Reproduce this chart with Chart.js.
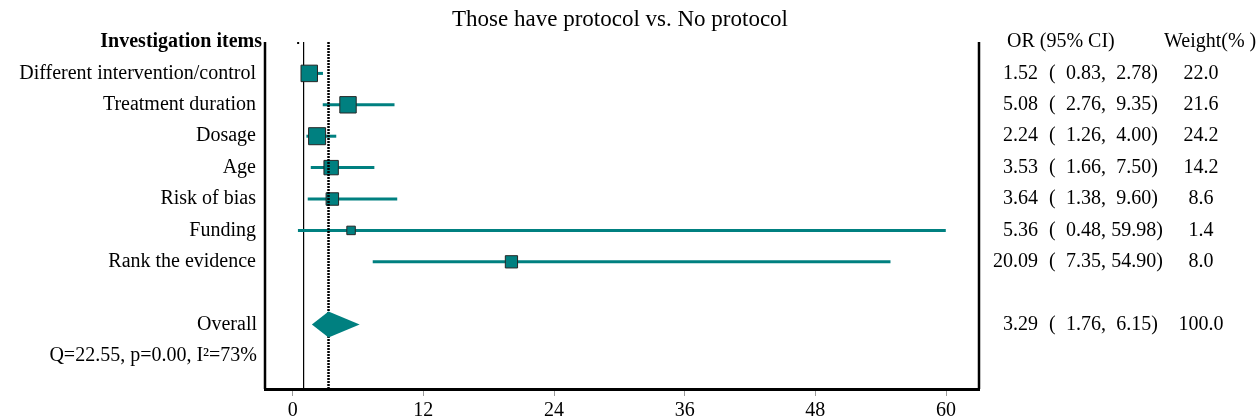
<!DOCTYPE html>
<html>
<head>
<meta charset="utf-8">
<script src="https://cdn.jsdelivr.net/npm/chart.js@4.4.1/dist/chart.umd.min.js"></script>
<style>
html,body{margin:0;padding:0;background:#fff;}
#wrap{width:1258px;height:420px;position:relative;}
</style>
</head>
<body>
<div id="wrap"><canvas id="c"></canvas></div>
<script>
// ---------- data ----------
const chartTitle = "Those have protocol vs. No protocol";
const headerLeft = "Investigation items";
const headerOR = "OR (95% CI)";
const headerWeight = "Weight(% )";
const categories = ["Different intervention/control", "Treatment duration", "Dosage", "Age", "Risk of bias", "Funding", "Rank the evidence"];
const orValues = [1.52, 5.08, 2.24, 3.53, 3.64, 5.36, 20.09];
const ciLow    = [0.83, 2.76, 1.26, 1.66, 1.38, 0.48, 7.35];
const ciHigh   = [2.78, 9.35, 4.00, 7.50, 9.60, 59.98, 54.90];
const weights  = [22.0, 21.6, 24.2, 14.2, 8.6, 1.4, 8.0];
const overallLabel = "Overall";
const overallOR = 3.29;
const overallLow = 1.76;
const overallHigh = 6.15;
const overallWeight = 100.0;
const heterogeneityText = "Q=22.55, p=0.00, I\u00B2=73%";
const nullValue = 1;
const xTicks = [0, 12, 24, 36, 48, 60];

// ---------- style ----------
const TEAL = '#008080';
const FONT = '"Liberation Serif", "Times New Roman", serif';
const X_MIN = -2.544, X_MAX = 63.03;
const Y_MAX = 11.05;
const overallRow = categories.length + 2;
const hetRow = categories.length + 3;

Chart.defaults.font.family = FONT;
Chart.defaults.font.size = 20;
Chart.defaults.color = '#000';

const ciDatasets = categories.map((c, i) => ({
  type: 'scatter',
  label: 'ci-' + i,
  data: [{x: ciLow[i], y: i + 1}, {x: ciHigh[i], y: i + 1}],
  showLine: true,
  borderColor: TEAL,
  borderWidth: 3,
  pointRadius: 0,
  order: 4
}));

const boxSide = w => 5.8 + 2.28 * Math.sqrt(w);
const boxDataset = {
  type: 'scatter',
  label: 'OR',
  data: orValues.map((v, i) => ({x: v, y: i + 1})),
  pointStyle: 'rect',
  pointRadius: weights.map(w => boxSide(w) / Math.SQRT2),
  pointHoverRadius: weights.map(w => boxSide(w) / Math.SQRT2),
  backgroundColor: TEAL,
  borderColor: '#262626',
  borderWidth: 1,
  order: 3
};

const nullLine = {
  type: 'scatter',
  label: 'null',
  data: [{x: nullValue, y: 0}, {x: nullValue, y: Y_MAX}],
  showLine: true,
  borderColor: '#000',
  borderWidth: 1,
  pointRadius: 0,
  order: 6
};

const overallLine = {
  type: 'scatter',
  label: 'overall',
  data: [{x: overallOR, y: 0}, {x: overallOR, y: Y_MAX}],
  showLine: true,
  borderColor: '#000',
  borderWidth: 2.5,
  borderDash: [2, 1],
  pointRadius: 0,
  order: 2
};

const decorPlugin = {
  id: 'decor',
  afterDatasetsDraw(chart) {
    const {ctx, scales: {x, y}} = chart;
    // overall diamond
    const yc = y.getPixelForValue(overallRow);
    const h = 13;
    ctx.save();
    ctx.fillStyle = TEAL;
    ctx.beginPath();
    ctx.moveTo(x.getPixelForValue(overallLow), yc);
    ctx.lineTo(x.getPixelForValue(overallOR), yc - h);
    ctx.lineTo(x.getPixelForValue(overallHigh), yc);
    ctx.lineTo(x.getPixelForValue(overallOR), yc + h);
    ctx.closePath();
    ctx.fill();
    // tiny stray dot near the top
    ctx.fillStyle = '#000';
    ctx.fillRect(x.getPixelForValue(0.5) - 1, y.getPixelForValue(0), 2, 2);
    ctx.restore();
  },
  afterDraw(chart) {
    const {ctx, scales: {x, y}, chartArea: ca} = chart;
    ctx.save();
    // frame
    ctx.strokeStyle = '#000';
    ctx.lineWidth = 2.5;
    ctx.beginPath();
    ctx.moveTo(ca.left, ca.top); ctx.lineTo(ca.left, ca.bottom);
    ctx.moveTo(ca.right, ca.top); ctx.lineTo(ca.right, ca.bottom);
    ctx.stroke();

    ctx.fillStyle = '#000';
    ctx.textBaseline = 'middle';
    // title
    ctx.font = '23px ' + FONT;
    ctx.textAlign = 'center';
    ctx.fillText(chartTitle, 620, 20);
    // left header
    ctx.font = 'bold 20px ' + FONT;
    ctx.textAlign = 'right';
    ctx.fillText(headerLeft, 262, y.getPixelForValue(0));
    // left labels
    ctx.font = '20px ' + FONT;
    categories.forEach((c, i) => ctx.fillText(c, 256, y.getPixelForValue(i + 1)));
    ctx.fillText(overallLabel, 257, y.getPixelForValue(overallRow));
    ctx.fillText(heterogeneityText, 257, y.getPixelForValue(hetRow));
    // right headers
    ctx.textAlign = 'left';
    ctx.fillText(headerOR, 1007, y.getPixelForValue(0));
    ctx.fillText(headerWeight, 1164, y.getPixelForValue(0));
    // right values
    const drawRow = (or, lo, hi, w, row) => {
      const py = y.getPixelForValue(row);
      ctx.textAlign = 'right';
      ctx.fillText(or.toFixed(2), 1038, py);
      ctx.textAlign = 'left';
      ctx.fillText('(', 1049, py);
      ctx.fillText(lo.toFixed(2) + ',', 1066, py);
      ctx.textAlign = 'right';
      ctx.fillText(hi.toFixed(2) + ')', hi < 10 ? 1158 : 1163, py);
      ctx.textAlign = 'center';
      ctx.fillText(w.toFixed(1), 1201, py);
    };
    categories.forEach((c, i) => drawRow(orValues[i], ciLow[i], ciHigh[i], weights[i], i + 1));
    drawRow(overallOR, overallLow, overallHigh, overallWeight, overallRow);
    ctx.restore();
  }
};

new Chart(document.getElementById('c'), {
  data: {
    datasets: [nullLine, ...ciDatasets, boxDataset, overallLine]
  },
  options: {
    responsive: true,
    maintainAspectRatio: false,
    animation: false,
    devicePixelRatio: 1,
    layout: {padding: {left: 265, right: 279, top: 42, bottom: -6}},
    plugins: {legend: {display: false}, tooltip: {enabled: false}, title: {display: false}},
    scales: {
      x: {
        type: 'linear',
        position: 'bottom',
        min: X_MIN,
        max: X_MAX,
        afterBuildTicks: s => { s.ticks = xTicks.map(v => ({value: v})); },
        grid: {display: true, drawOnChartArea: false, drawTicks: true, tickLength: 7, color: '#999', lineWidth: 1},
        border: {display: true, color: '#000', width: 3},
        ticks: {font: {size: 20, lineHeight: 1}, color: '#000', padding: 5, maxRotation: 0, autoSkip: false}
      },
      y: {
        type: 'linear',
        reverse: true,
        min: 0,
        max: Y_MAX,
        display: false
      }
    }
  },
  plugins: [decorPlugin]
});
</script>
</body>
</html>
